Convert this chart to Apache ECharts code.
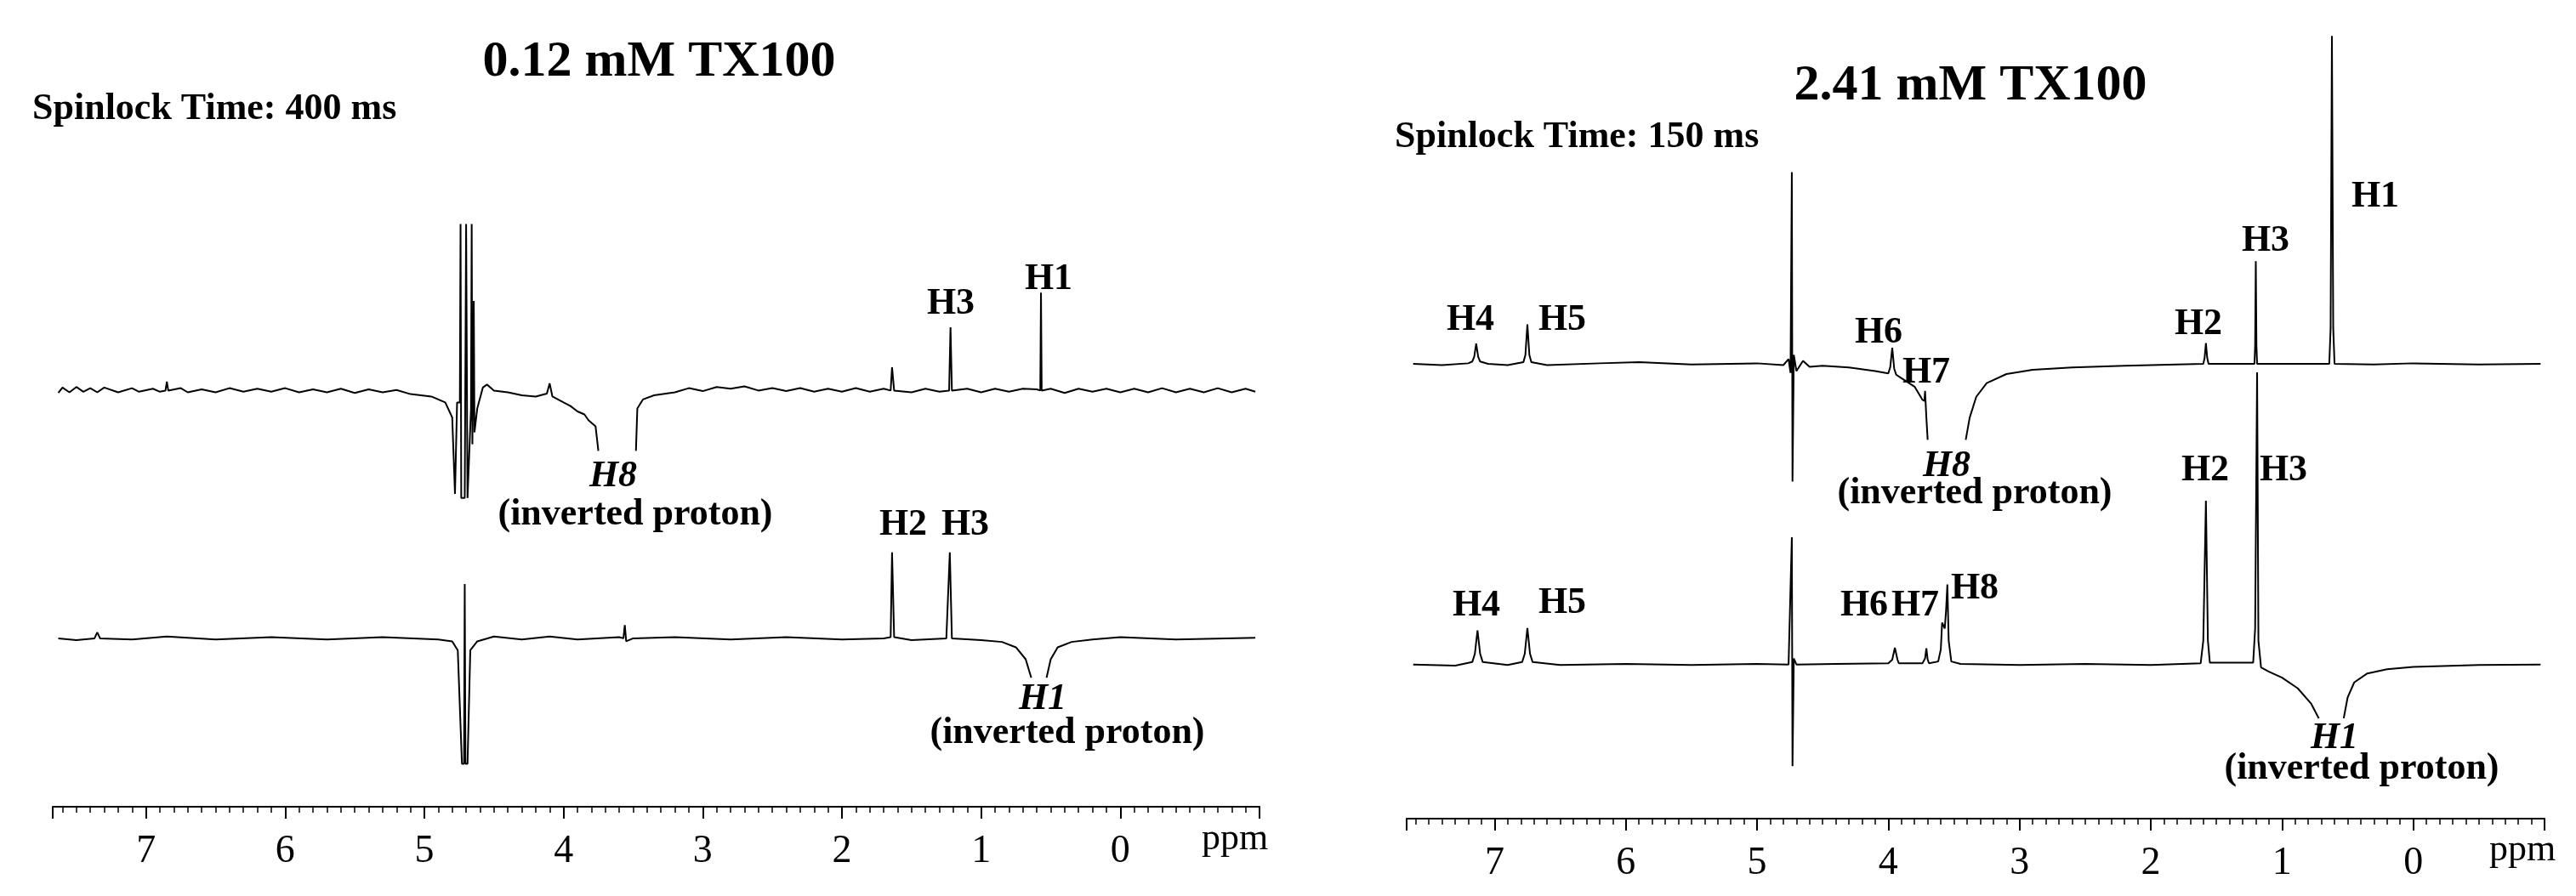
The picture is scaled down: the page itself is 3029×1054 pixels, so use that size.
<!DOCTYPE html>
<html>
<head>
<meta charset="utf-8">
<script src="https://cdn.jsdelivr.net/npm/echarts@6/dist/echarts.min.js"></script>
<style>html,body{margin:0;padding:0;background:#fff}#main{width:3029px;height:1054px}</style>
</head>
<body>
<div id="main"></div>
<script>
// ppm, intensity (relative to each trace's baseline); '-' marks the clipped gap
var left_top = [[7.63,-4],[7.6,5],[7.55,-3],[7.5,6],[7.45,-2],[7.4,4],[7.35,-3],[7.3,5],[7.2,-3],[7.1,4],[7.05,-2],[6.95,3],[6.9,-2],[6.86,0],[6.85,15],[6.84,0],[6.75,4],[6.7,-3],[6.6,2],[6.5,-3],[6.4,4],[6.3,-2],[6.2,3],[6.1,-2],[6.0,4],[5.9,-3],[5.8,2],[5.7,-3],[5.6,3],[5.5,-4],[5.4,2],[5.3,-3],[5.2,1],[5.1,-6],[4.95,-10],[4.85,-20],[4.8,-45],[4.78,-173],[4.77,-173],[4.765,-20],[4.745,-20],[4.74,279],[4.735,-180],[4.71,-180],[4.7,279],[4.69,-180],[4.665,-30],[4.66,279],[4.655,-90],[4.645,150],[4.64,-70],[4.62,-30],[4.58,5],[4.55,10],[4.5,0],[4.4,-3],[4.3,-8],[4.2,-10],[4.12,-5],[4.1,12],[4.08,-10],[4.0,-20],[3.95,-26],[3.9,-35],[3.85,-40],[3.82,-50],[3.77,-60],[3.75,-101],[3.62,'-'],[3.48,-101],[3.47,-30],[3.43,-15],[3.35,-8],[3.2,-3],[3.1,4],[3.0,-1],[2.9,6],[2.8,3],[2.7,7],[2.6,0],[2.5,4],[2.4,-1],[2.3,4],[2.2,-2],[2.1,3],[2.0,-2],[1.9,4],[1.8,-2],[1.7,3],[1.65,0],[1.64,39],[1.625,0],[1.5,-3],[1.4,3],[1.3,-2],[1.23,0],[1.22,106],[1.21,0],[1.1,3],[1.0,-3],[0.9,3],[0.8,-2],[0.7,3],[0.6,2],[0.575,0],[0.57,164],[0.565,0],[0.5,3],[0.4,-4],[0.3,3],[0.2,-2],[0.1,3],[0.0,-3],[-0.1,3],[-0.2,-3],[-0.3,4],[-0.4,-3],[-0.5,3],[-0.6,-3],[-0.7,4],[-0.8,-3],[-0.9,3],[-0.97,-2]];
var left_bottom = [[7.63,0],[7.5,-3],[7.37,0],[7.35,10],[7.33,0],[7.1,-2],[6.85,3],[6.5,-2],[6.1,2],[5.7,-2],[5.3,2],[4.9,-2],[4.8,-5],[4.76,-20],[4.73,-210],[4.715,-210],[4.71,91],[4.705,-210],[4.69,-210],[4.67,-20],[4.62,-5],[4.5,3],[4.3,-2],[4.1,3],[3.9,-2],[3.6,2],[3.57,0],[3.56,22],[3.55,-5],[3.5,0],[3.2,2],[2.8,-2],[2.4,2],[2.0,-2],[1.7,0],[1.65,2],[1.64,144],[1.625,2],[1.5,-3],[1.25,0],[1.225,144],[1.21,0],[1.0,-3],[0.85,-6],[0.75,-15],[0.68,-35],[0.64,-66],[0.6,'-'],[0.53,-66],[0.5,-35],[0.45,-15],[0.35,-6],[0.2,-2],[0,2],[-0.4,-2],[-0.97,1]];
var right_top = [[7.62,0],[7.4,-2],[7.2,1],[7.17,4],[7.155,12],[7.14,34],[7.125,12],[7.11,4],[7.05,0],[6.9,-2],[6.78,3],[6.765,15],[6.75,66],[6.735,15],[6.72,3],[6.6,-2],[6.2,1],[5.9,3],[5.5,-1],[5.0,1],[4.8,-2],[4.76,8],[4.745,-15],[4.735,321],[4.73,-197],[4.72,15],[4.7,-12],[4.65,5],[4.6,-5],[4.5,-3],[4.3,-6],[4.1,-12],[4.0,-16],[3.985,-5],[3.97,27],[3.955,-8],[3.94,-18],[3.9,-24],[3.8,-38],[3.74,-60],[3.725,-62],[3.72,-45],[3.71,-90],[3.7,-127],[3.55,'-'],[3.41,-127],[3.38,-90],[3.33,-55],[3.25,-32],[3.1,-17],[2.9,-10],[2.6,-6],[2.2,-3],[1.8,-1],[1.6,0],[1.59,10],[1.58,35],[1.57,10],[1.56,0],[1.21,0],[1.205,30],[1.2,172],[1.195,30],[1.19,0],[0.64,0],[0.63,60],[0.62,549],[0.61,60],[0.6,0],[0.3,-1],[0,1],[-0.5,-1],[-0.97,0]];
var right_bottom = [[7.62,0],[7.3,-2],[7.17,4],[7.15,18],[7.13,57],[7.11,18],[7.09,4],[6.9,-1],[6.79,4],[6.77,18],[6.75,61],[6.73,18],[6.71,4],[6.5,-1],[6.0,1],[5.5,-1],[5.0,1],[4.76,0],[4.735,213],[4.73,-170],[4.72,10],[4.7,0],[4.4,1],[4.0,2],[3.97,8],[3.95,28],[3.93,8],[3.92,2],[3.74,2],[3.72,10],[3.71,27],[3.70,8],[3.69,2],[3.62,5],[3.6,25],[3.59,70],[3.57,60],[3.56,90],[3.55,134],[3.54,40],[3.52,5],[3.45,1],[3.0,-1],[2.5,1],[2.0,-1],[1.62,2],[1.6,40],[1.58,274],[1.565,40],[1.55,3],[1.22,3],[1.205,60],[1.19,489],[1.18,40],[1.16,-5],[1.1,-12],[1.0,-22],[0.88,-40],[0.78,-65],[0.72,-90],[0.62,'-'],[0.53,-90],[0.5,-55],[0.45,-30],[0.35,-15],[0.2,-8],[0,-4],[-0.5,-1],[-0.97,0]];

var serif = "'Liberation Serif', 'DejaVu Serif', serif";

function shift(arr, off) {
  return arr.map(function(p) { return [p[0], p[1] === '-' ? '-' : p[1] + off]; });
}
function xAxisCfg(idx) {
  return {
    type: "value", gridIndex: idx, min: -1, max: 7.67, interval: 1, inverse: true,
    axisLine: { onZero: false, lineStyle: { color: "#000", width: 2 } },
    axisTick: { length: 14, lineStyle: { color: "#000", width: 2 } },
    minorTick: { show: true, splitNumber: 10, length: 7, lineStyle: { color: "#000", width: 1.5 } },
    splitLine: { show: false },
    axisLabel: {
      margin: 30, fontFamily: serif, fontSize: 46, color: "#000",
      formatter: function(v) { return (v < -0.5 || v > 7.5) ? "" : String(v); }
    },
    showMinLabel: false
  };
}
function lineSeries(data, idx) {
  return { type: "line", xAxisIndex: idx, yAxisIndex: idx, data: data, showSymbol: false,
    connectNulls: false, lineStyle: { color: "#000", width: 2 }, silent: true, clip: false };
}
function txt(x, y, s, size, italic) {
  return { type: "text", x: x, y: y, style: { text: s, fill: "#000", align: "center", verticalAlign: "middle",
    font: (italic ? "italic " : "") + "bold " + size + "px " + serif } };
}
function plain(x, y, s) {
  return { type: "text", x: x, y: y, style: { text: s, fill: "#000", align: "center", verticalAlign: "middle", font: "44px " + serif } };
}
function left(x, y, s) {
  return { type: "text", x: x, y: y, style: { text: s, fill: "#000", verticalAlign: "middle", font: "bold 44px " + serif } };
}

var myChart = echarts.init(document.getElementById("main"));
var option = {
  animation: false,
  grid: [
    { left: 62, width: 1419, top: 0, height: 949 },
    { left: 1654, width: 1338, top: 0, height: 963 }
  ],
  xAxis: [xAxisCfg(0), xAxisCfg(1)],
  yAxis: [
    { type: "value", gridIndex: 0, min: 0, max: 1351, show: false },
    { type: "value", gridIndex: 1, min: 0, max: 1370, show: false }
  ],
  series: [
    lineSeries(shift(left_top, 697), 0),
    lineSeries(shift(left_bottom, 282), 0),
    lineSeries(shift(right_top, 761), 1),
    lineSeries(shift(right_bottom, 258), 1)
  ],
  graphic: [
    txt(775, 73, "0.12 mM TX100", 60),
    left(38, 129, "Spinlock Time: 400 ms"),
    txt(1118, 358, "H3", 44), txt(1233, 329, "H1", 44),
    txt(721, 561, "H8", 44, true), txt(747, 606, "(inverted proton)", 44),
    txt(1062, 618, "H2", 44), txt(1135, 618, "H3", 44),
    txt(1226, 823, "H1", 44, true), txt(1255, 863, "(inverted proton)", 44),
    plain(1452, 987, "ppm"),

    txt(2317, 101, "2.41 mM TX100", 60),
    left(1640, 162, "Spinlock Time: 150 ms"),
    txt(1729, 377, "H4", 44), txt(1837, 377, "H5", 44), txt(2209, 392, "H6", 44), txt(2265, 439, "H7", 44),
    txt(2289, 549, "H8", 44, true), txt(2322, 581, "(inverted proton)", 44),
    txt(2585, 382, "H2", 44), txt(2664, 284, "H3", 44), txt(2793, 232, "H1", 44),
    txt(2593, 554, "H2", 44), txt(2685, 554, "H3", 44),
    txt(1736, 713, "H4", 44), txt(1837, 710, "H5", 44), txt(2192, 713, "H6", 44), txt(2252, 713, "H7", 44), txt(2322, 693, "H8", 44),
    txt(2745, 869, "H1", 44, true), txt(2777, 905, "(inverted proton)", 44),
    plain(2966, 1000, "ppm")
  ]
};
myChart.setOption(option);
</script>
</body>
</html>
